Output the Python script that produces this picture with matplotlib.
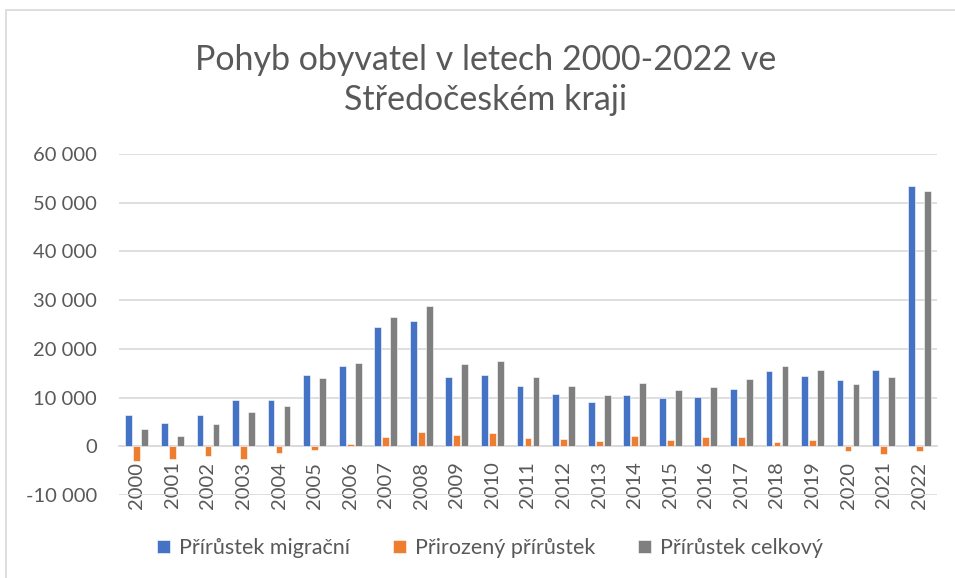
import matplotlib
matplotlib.use("Agg")
import matplotlib.pyplot as plt
import numpy as np
from matplotlib.patches import Rectangle

plt.rcParams['font.family'] = ['Lato', 'DejaVu Sans']

years = [str(y) for y in range(2000, 2023)]
migracni = [6450, 4800, 6500, 9470, 9470, 14680, 16400, 24420, 25790, 14270, 14610,
            12350, 10700, 9120, 10560, 9950, 10020, 11660, 15370, 14340, 13650, 15710, 53370]
prirozeny = [-2950, -2600, -2000, -2540, -1370, -700, 550, 1990, 2880, 2400, 2680,
             1780, 1580, 1170, 2130, 1370, 1990, 1990, 960, 1300, -960, -1650, -1030]
celkovy = [3640, 2200, 4660, 7070, 8230, 13930, 17010, 26480, 28810, 16800, 17420,
           14270, 12350, 10430, 12900, 11520, 12070, 13720, 16460, 15710, 12760, 14130, 52480]
series_names = ["Přírůstek migrační", "Přirozený přírůstek", "Přírůstek celkový"]
colors = ["#4472C4", "#ED7D31", "#7F7F7F"]
yticks = [-10000, 0, 10000, 20000, 30000, 40000, 50000, 60000]

W, H = 955, 578
fig = plt.figure(figsize=(W / 100, H / 100), dpi=100)
fig.patch.set_facecolor("white")

# chart border
fig.patches.append(Rectangle((5.5 / W, -0.05), 1.2, 1 - 9.5 / H + 0.05, transform=fig.transFigure,
                             fill=False, edgecolor="#D9D9D9", linewidth=1.2))

ax = fig.add_axes([119 / W, 1 - 495 / H, (937 - 119) / W, (495 - 154) / H])
x = np.arange(len(years))
step = 0.225
bw = 0.19
for i, (vals, name, c) in enumerate(zip([migracni, prirozeny, celkovy], series_names, colors)):
    ax.bar(x + (i - 1) * step, vals, width=bw, color=c, label=name,
           edgecolor="white", linewidth=0.4, zorder=3)

ax.set_xlim(-0.5, len(years) - 0.5)
ax.set_ylim(-10000, 60000)
ax.set_yticks(yticks)
ax.set_yticklabels([f"{v:,}".replace(",", " ") for v in yticks])
ax.yaxis.grid(True, color="#D9D9D9", linewidth=1.2, zorder=0)
ax.set_axisbelow(True)
for s in ["top", "right", "left"]:
    ax.spines[s].set_visible(False)
ax.spines["bottom"].set_position(("data", 0))
ax.spines["bottom"].set_color("#D9D9D9")
ax.spines["bottom"].set_linewidth(1.2)
ax.spines["bottom"].set_zorder(2)
ax.set_xticks(x)
ax.set_xticklabels(years, rotation=90)
ax.tick_params(axis="x", length=0, pad=11, labelsize=14.5, labelcolor="#595959")
ax.tick_params(axis="y", length=0, pad=16, labelsize=14.5, labelcolor="#595959")

fig.text(486 / W, 1 - 80 / H, "Pohyb obyvatel v letech 2000-2022 ve\nStředočeském kraji",
         ha="center", va="center", fontsize=24.5, color="#595959", linespacing=1.3)

leg = fig.legend(loc="center", bbox_to_anchor=(490 / W, 1 - 548 / H), ncol=3, frameon=False,
                 fontsize=15.5, handlelength=0.6, handleheight=0.6, handletextpad=0.4,
                 columnspacing=2.0)
for t in leg.get_texts():
    t.set_color("#595959")

fig.savefig("out.png", dpi=100, facecolor="white")
